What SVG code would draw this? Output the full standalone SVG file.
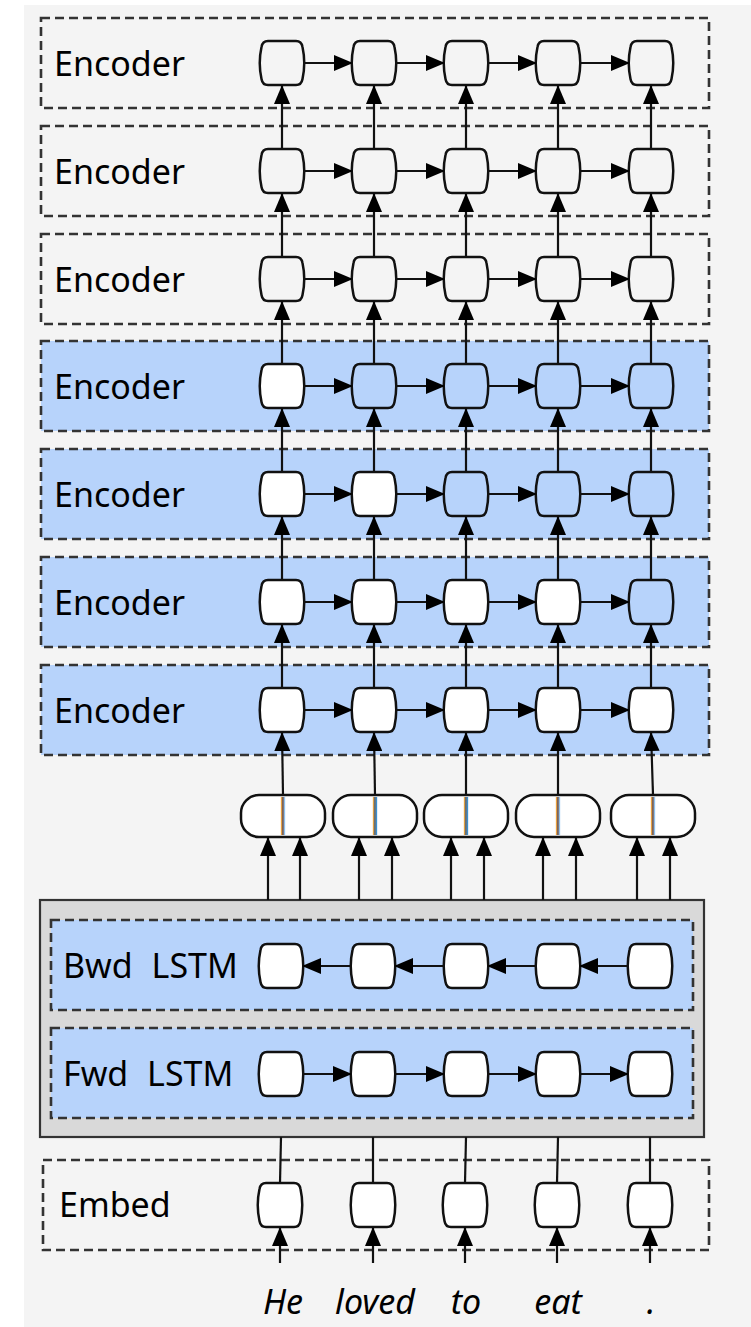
<svg xmlns="http://www.w3.org/2000/svg" xmlns:xlink="http://www.w3.org/1999/xlink" width="751" height="1327" viewBox="0 0 751 1327">
<style>
.lbl{font-family:"Noto Sans","Open Sans",sans-serif;font-size:34px;fill:#000}
.lw{word-spacing:10px}
.word{font-family:"Noto Sans","Open Sans",sans-serif;font-size:34px;font-style:italic;fill:#000;text-anchor:middle}
.dash{stroke:#333;stroke-width:2.6;stroke-dasharray:9 5}
.gray{fill:none}
.blue{fill:#b7d3fb}
.node{stroke:#111;stroke-width:2.5}
.wn{fill:#fff}
.tn{fill:none}
.bn{fill:#b7d3fb}
.con line{stroke:#111;stroke-width:2.2}
.arr{marker-end:url(#ah)}
</style>
<defs>
<marker id="ah" markerUnits="userSpaceOnUse" markerWidth="19" markerHeight="16" refX="19" refY="8" orient="auto">
<path d="M0,0 L19,8 L0,16 Z" fill="#000"/>
</marker>
<path id="nd" d="M-14,-22 H14 Q19.5,-22 20.5,-16 Q24,0 20.5,16 Q19.5,22 14,22 H-14 Q-19.5,22 -20.5,16 Q-24,0 -20.5,-16 Q-19.5,-22 -14,-22 Z"/>
<rect id="pill" x="-42" y="-21" width="84" height="42" rx="18" ry="18"/>
</defs>
<rect x="0" y="0" width="751" height="1327" fill="#fff"/>
<rect x="24" y="5" width="727" height="1322" fill="#f4f4f4"/>

<g id="enc1"><rect x="41" y="18" width="668" height="90" class="dash gray"/><text x="54" y="76" class="lbl">Encoder</text>
<use xlink:href="#nd" x="282" y="63" class="node tn"/><use xlink:href="#nd" x="374" y="63" class="node tn"/><use xlink:href="#nd" x="466" y="63" class="node tn"/><use xlink:href="#nd" x="558" y="63" class="node tn"/><use xlink:href="#nd" x="651" y="63" class="node tn"/></g>
<g id="enc2"><rect x="41" y="126" width="668" height="90" class="dash gray"/><text x="54" y="184" class="lbl">Encoder</text>
<use xlink:href="#nd" x="282" y="171" class="node tn"/><use xlink:href="#nd" x="374" y="171" class="node tn"/><use xlink:href="#nd" x="466" y="171" class="node tn"/><use xlink:href="#nd" x="558" y="171" class="node tn"/><use xlink:href="#nd" x="651" y="171" class="node tn"/></g>
<g id="enc3"><rect x="41" y="234" width="668" height="90" class="dash gray"/><text x="54" y="292" class="lbl">Encoder</text>
<use xlink:href="#nd" x="282" y="279" class="node tn"/><use xlink:href="#nd" x="374" y="279" class="node tn"/><use xlink:href="#nd" x="466" y="279" class="node tn"/><use xlink:href="#nd" x="558" y="279" class="node tn"/><use xlink:href="#nd" x="651" y="279" class="node tn"/></g>
<g id="enc4"><rect x="41" y="341" width="668" height="90" class="dash blue"/><text x="54" y="399" class="lbl">Encoder</text>
<use xlink:href="#nd" x="282" y="386" class="node wn"/><use xlink:href="#nd" x="374" y="386" class="node bn"/><use xlink:href="#nd" x="466" y="386" class="node bn"/><use xlink:href="#nd" x="558" y="386" class="node bn"/><use xlink:href="#nd" x="651" y="386" class="node bn"/></g>
<g id="enc5"><rect x="41" y="449" width="668" height="90" class="dash blue"/><text x="54" y="507" class="lbl">Encoder</text>
<use xlink:href="#nd" x="282" y="494" class="node wn"/><use xlink:href="#nd" x="374" y="494" class="node wn"/><use xlink:href="#nd" x="466" y="494" class="node bn"/><use xlink:href="#nd" x="558" y="494" class="node bn"/><use xlink:href="#nd" x="651" y="494" class="node bn"/></g>
<g id="enc6"><rect x="41" y="557" width="668" height="90" class="dash blue"/><text x="54" y="615" class="lbl">Encoder</text>
<use xlink:href="#nd" x="282" y="602" class="node wn"/><use xlink:href="#nd" x="374" y="602" class="node wn"/><use xlink:href="#nd" x="466" y="602" class="node wn"/><use xlink:href="#nd" x="558" y="602" class="node wn"/><use xlink:href="#nd" x="651" y="602" class="node bn"/></g>
<g id="enc7"><rect x="41" y="665" width="668" height="90" class="dash blue"/><text x="54" y="723" class="lbl">Encoder</text>
<use xlink:href="#nd" x="282" y="710" class="node wn"/><use xlink:href="#nd" x="374" y="710" class="node wn"/><use xlink:href="#nd" x="466" y="710" class="node wn"/><use xlink:href="#nd" x="558" y="710" class="node wn"/><use xlink:href="#nd" x="651" y="710" class="node wn"/></g>

<g id="concat">
<use xlink:href="#pill" x="283" y="816" class="node wn"/><use xlink:href="#pill" x="375" y="816" class="node wn"/><use xlink:href="#pill" x="466" y="816" class="node wn"/><use xlink:href="#pill" x="558" y="816" class="node wn"/><use xlink:href="#pill" x="653" y="816" class="node wn"/>
<g stroke-width="1.3">
<line x1="281.5" y1="797" x2="281.5" y2="835" stroke="#e8a040"/><line x1="283" y1="797" x2="283" y2="835" stroke="#3a1a10"/><line x1="284.5" y1="797" x2="284.5" y2="835" stroke="#8cc0ee"/>
<line x1="373.5" y1="797" x2="373.5" y2="835" stroke="#e0a040"/><line x1="375" y1="797" x2="375" y2="835" stroke="#1a2a3a"/><line x1="376.5" y1="797" x2="376.5" y2="835" stroke="#3a90d0"/>
<line x1="464.5" y1="797" x2="464.5" y2="835" stroke="#e0a040"/><line x1="466" y1="797" x2="466" y2="835" stroke="#1a2a3a"/><line x1="467.5" y1="797" x2="467.5" y2="835" stroke="#3a90d0"/>
<line x1="556.5" y1="797" x2="556.5" y2="835" stroke="#e8a040"/><line x1="558" y1="797" x2="558" y2="835" stroke="#3a1a10"/><line x1="559.5" y1="797" x2="559.5" y2="835" stroke="#8cc0ee"/>
<line x1="651.5" y1="797" x2="651.5" y2="835" stroke="#e8a040"/><line x1="653" y1="797" x2="653" y2="835" stroke="#3a1a10"/><line x1="654.5" y1="797" x2="654.5" y2="835" stroke="#8cc0ee"/>
</g>
</g>

<g id="bilstm">
<rect x="40" y="900" width="664" height="237" fill="#d9d9d9" stroke="#333" stroke-width="2.2"/>
<g id="bwd"><rect x="51" y="920" width="642" height="90" class="dash blue"/><text x="63" y="978" class="lbl lw">Bwd LSTM</text>
<use xlink:href="#nd" x="281" y="966" class="node wn"/><use xlink:href="#nd" x="373" y="966" class="node wn"/><use xlink:href="#nd" x="466" y="966" class="node wn"/><use xlink:href="#nd" x="558" y="966" class="node wn"/><use xlink:href="#nd" x="650" y="966" class="node wn"/></g>
<g id="fwd"><rect x="51" y="1028" width="642" height="90" class="dash blue"/><text x="63" y="1086" class="lbl lw">Fwd LSTM</text>
<use xlink:href="#nd" x="281" y="1074" class="node wn"/><use xlink:href="#nd" x="373" y="1074" class="node wn"/><use xlink:href="#nd" x="466" y="1074" class="node wn"/><use xlink:href="#nd" x="558" y="1074" class="node wn"/><use xlink:href="#nd" x="650" y="1074" class="node wn"/></g>
</g>

<g id="embed"><rect x="43" y="1160" width="666" height="90" class="dash gray"/><text x="59" y="1217" class="lbl">Embed</text>
<use xlink:href="#nd" x="280" y="1205" class="node wn"/><use xlink:href="#nd" x="373" y="1205" class="node wn"/><use xlink:href="#nd" x="465" y="1205" class="node wn"/><use xlink:href="#nd" x="557" y="1205" class="node wn"/><use xlink:href="#nd" x="650" y="1205" class="node wn"/></g>

<g id="words">
<text x="283" y="1314" class="word">He</text><text x="375" y="1314" class="word">loved</text><text x="466" y="1314" class="word">to</text><text x="558" y="1314" class="word">eat</text><text x="651" y="1314" class="word">.</text>
</g>

<g id="connectors" class="con">
<g class="arr">
<line x1="304" y1="63" x2="353" y2="63"/><line x1="396" y1="63" x2="445" y2="63"/><line x1="488" y1="63" x2="537" y2="63"/><line x1="580" y1="63" x2="630" y2="63"/>
<line x1="304" y1="171" x2="353" y2="171"/><line x1="396" y1="171" x2="445" y2="171"/><line x1="488" y1="171" x2="537" y2="171"/><line x1="580" y1="171" x2="630" y2="171"/>
<line x1="304" y1="279" x2="353" y2="279"/><line x1="396" y1="279" x2="445" y2="279"/><line x1="488" y1="279" x2="537" y2="279"/><line x1="580" y1="279" x2="630" y2="279"/>
<line x1="304" y1="386" x2="353" y2="386"/><line x1="396" y1="386" x2="445" y2="386"/><line x1="488" y1="386" x2="537" y2="386"/><line x1="580" y1="386" x2="630" y2="386"/>
<line x1="304" y1="494" x2="353" y2="494"/><line x1="396" y1="494" x2="445" y2="494"/><line x1="488" y1="494" x2="537" y2="494"/><line x1="580" y1="494" x2="630" y2="494"/>
<line x1="304" y1="602" x2="353" y2="602"/><line x1="396" y1="602" x2="445" y2="602"/><line x1="488" y1="602" x2="537" y2="602"/><line x1="580" y1="602" x2="630" y2="602"/>
<line x1="304" y1="710" x2="353" y2="710"/><line x1="396" y1="710" x2="445" y2="710"/><line x1="488" y1="710" x2="537" y2="710"/><line x1="580" y1="710" x2="630" y2="710"/>
</g>
<g class="arr">
<line x1="282" y1="149" x2="282" y2="85"/><line x1="374" y1="149" x2="374" y2="85"/><line x1="466" y1="149" x2="466" y2="85"/><line x1="558" y1="149" x2="558" y2="85"/><line x1="651" y1="149" x2="651" y2="85"/>
<line x1="282" y1="257" x2="282" y2="193"/><line x1="374" y1="257" x2="374" y2="193"/><line x1="466" y1="257" x2="466" y2="193"/><line x1="558" y1="257" x2="558" y2="193"/><line x1="651" y1="257" x2="651" y2="193"/>
<line x1="282" y1="364" x2="282" y2="301"/><line x1="374" y1="364" x2="374" y2="301"/><line x1="466" y1="364" x2="466" y2="301"/><line x1="558" y1="364" x2="558" y2="301"/><line x1="651" y1="364" x2="651" y2="301"/>
<line x1="282" y1="472" x2="282" y2="408"/><line x1="374" y1="472" x2="374" y2="408"/><line x1="466" y1="472" x2="466" y2="408"/><line x1="558" y1="472" x2="558" y2="408"/><line x1="651" y1="472" x2="651" y2="408"/>
<line x1="282" y1="580" x2="282" y2="516"/><line x1="374" y1="580" x2="374" y2="516"/><line x1="466" y1="580" x2="466" y2="516"/><line x1="558" y1="580" x2="558" y2="516"/><line x1="651" y1="580" x2="651" y2="516"/>
<line x1="282" y1="688" x2="282" y2="624"/><line x1="374" y1="688" x2="374" y2="624"/><line x1="466" y1="688" x2="466" y2="624"/><line x1="558" y1="688" x2="558" y2="624"/><line x1="651" y1="688" x2="651" y2="624"/>
<line x1="283" y1="795" x2="282" y2="732"/><line x1="375" y1="795" x2="374" y2="732"/><line x1="466" y1="795" x2="466" y2="732"/><line x1="558" y1="795" x2="558" y2="732"/><line x1="653" y1="795" x2="651" y2="732"/>
</g>
<g class="arr">
<line x1="268" y1="900" x2="268" y2="837"/><line x1="300" y1="900" x2="300" y2="837"/>
<line x1="359" y1="900" x2="359" y2="837"/><line x1="392" y1="900" x2="392" y2="837"/>
<line x1="451" y1="900" x2="451" y2="837"/><line x1="484" y1="900" x2="484" y2="837"/>
<line x1="543" y1="900" x2="543" y2="837"/><line x1="576" y1="900" x2="576" y2="837"/>
<line x1="637" y1="900" x2="637" y2="837"/><line x1="670" y1="900" x2="670" y2="837"/>
</g>
<g class="arr">
<line x1="352" y1="966" x2="302" y2="966"/><line x1="445" y1="966" x2="394" y2="966"/><line x1="537" y1="966" x2="487" y2="966"/><line x1="629" y1="966" x2="579" y2="966"/>
</g>
<g class="arr">
<line x1="302" y1="1074" x2="352" y2="1074"/><line x1="394" y1="1074" x2="445" y2="1074"/><line x1="487" y1="1074" x2="537" y2="1074"/><line x1="579" y1="1074" x2="629" y2="1074"/>
</g>
<line x1="280" y1="1183" x2="281" y2="1137"/><line x1="373" y1="1183" x2="373" y2="1137"/><line x1="465" y1="1183" x2="466" y2="1137"/><line x1="557" y1="1183" x2="558" y2="1137"/><line x1="650" y1="1183" x2="650" y2="1137"/>
<g class="arr">
<line x1="280" y1="1263" x2="280" y2="1227"/><line x1="373" y1="1263" x2="373" y2="1227"/><line x1="465" y1="1263" x2="465" y2="1227"/><line x1="557" y1="1263" x2="557" y2="1227"/><line x1="650" y1="1263" x2="650" y2="1227"/>
</g>
</g>
</svg>
